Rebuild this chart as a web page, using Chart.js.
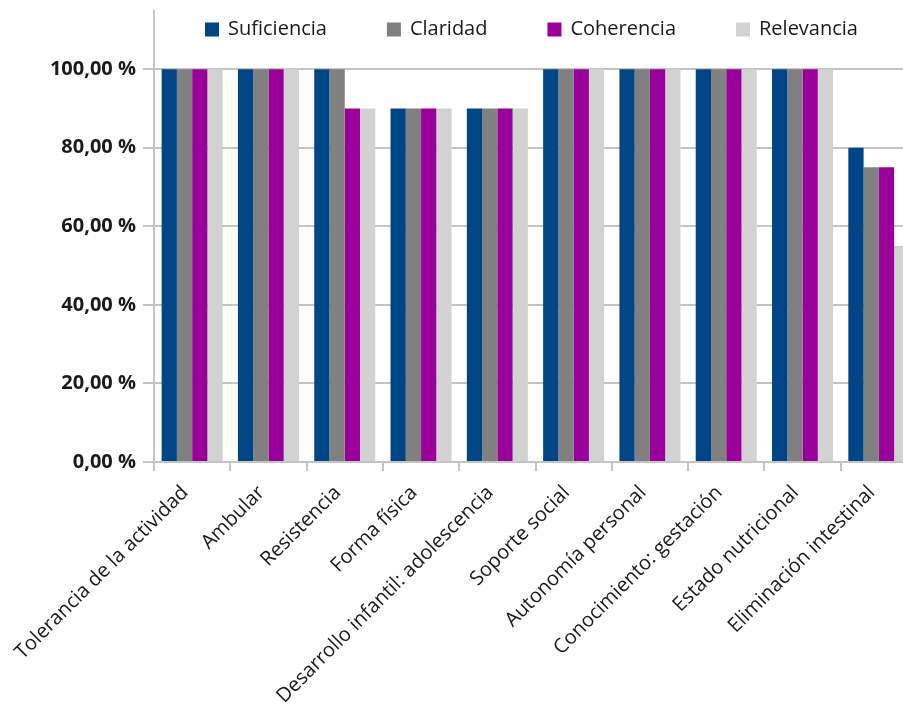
<!DOCTYPE html>
<html>
<head>
<meta charset="utf-8">
<script src="https://cdn.jsdelivr.net/npm/chart.js@4/dist/chart.umd.min.js"></script>
<style>
  html, body { margin: 0; padding: 0; background: #ffffff; overflow: hidden; }
  #wrap { position: absolute; left: 0; top: 0; width: 920px; height: 714px; }
</style>
</head>
<body>
<div id="wrap"><canvas id="c" width="920" height="714"></canvas></div>
<script>
// Categories (NOC outcomes) and evaluation scores, in percent
const categories = [
  'Tolerancia de la actividad',
  'Ambular',
  'Resistencia',
  'Forma física',
  'Desarrollo infantil: adolescencia',
  'Soporte social',
  'Autonomía personal',
  'Conocimiento: gestación',
  'Estado nutricional',
  'Eliminación intestinal'
];
const seriesNames = ['Suficiencia', 'Claridad', 'Coherencia', 'Relevancia'];
const suficiencia = [100, 100, 100, 90, 90, 100, 100, 100, 100, 80];
const claridad    = [100, 100, 100, 90, 90, 100, 100, 100, 100, 75];
const coherencia  = [100, 100,  90, 90, 90, 100, 100, 100, 100, 75];
const relevancia  = [100, 100,  90, 90, 90, 100, 100, 100, 100, 55];
const yTickValues = [0, 20, 40, 60, 80, 100];

const seriesColors = ['#004586', '#808080', '#990099', '#d2d2d2'];
const seriesValues = [suficiencia, claridad, coherencia, relevancia];

const fmtPct = v => v.toFixed(2).replace('.', ',') + ' %';

// Horizontal legend drawn over the top of the plot area
const topLegend = {
  id: 'topLegend',
  afterDraw(chart) {
    const ctx = chart.ctx;
    const box = 14, gapText = 9, gapItem = 60;
    ctx.save();
    ctx.font = '20px "Open Sans"';
    const items = chart.data.datasets.map(ds => ({
      label: ds.label, color: ds.backgroundColor, w: ctx.measureText(ds.label).width
    }));
    const total = items.reduce((s, it) => s + box + gapText + it.w, 0) + gapItem * (items.length - 1);
    const ca = chart.chartArea;
    let x = (ca.left + ca.right) / 2 - 4 - total / 2;
    const boxTop = 22.5;
    const baseline = 35;
    items.forEach(it => {
      ctx.fillStyle = it.color;
      ctx.fillRect(x, boxTop, box, box);
      x += box + gapText;
      ctx.fillStyle = '#1a1a1a';
      ctx.textAlign = 'left';
      ctx.textBaseline = 'alphabetic';
      ctx.fillText(it.label, x, baseline);
      x += it.w + gapItem;
    });
    ctx.restore();
  }
};

new Chart(document.getElementById('c'), {
  type: 'bar',
  data: {
    labels: categories,
    datasets: seriesNames.map((name, i) => ({
      label: name,
      data: seriesValues[i],
      backgroundColor: seriesColors[i],
      borderWidth: 0,
      categoryPercentage: 0.8,
      barPercentage: 1.0
    }))
  },
  options: {
    responsive: false,
    animation: false,
    layout: { padding: { top: 11, right: 3, left: 0, bottom: 0 } },
    plugins: {
      legend: { display: false },
      tooltip: { enabled: false }
    },
    scales: {
      x: {
        offset: true,
        afterFit: s => { s.height = 252; s.paddingLeft = 0; s.paddingRight = 0; },
        grid: {
          display: true,
          drawOnChartArea: false,
          drawTicks: true,
          tickLength: 9,
          color: '#c4c4c4',
          lineWidth: 2,
          offset: true
        },
        border: { display: true, color: '#c4c4c4', width: 2 },
        ticks: {
          autoSkip: false,
          minRotation: 45,
          maxRotation: 45,
          padding: 10,
          labelOffset: -7,
          color: '#1a1a1a',
          font: { family: '"Open Sans"', size: 20 }
        }
      },
      y: {
        min: 0,
        max: 114.8,
        afterFit: s => { s.width = 154; s.paddingTop = 0; s.paddingBottom = 0; },
        afterBuildTicks: s => { s.ticks = yTickValues.map(v => ({ value: v })); },
        grid: {
          color: '#c4c4c4',
          lineWidth: 2,
          tickLength: 11,
          drawTicks: true
        },
        border: { display: true, color: '#c4c4c4', width: 2 },
        ticks: {
          padding: 7,
          color: '#1a1a1a',
          font: { family: '"Open Sans"', size: 20, weight: 'bold' },
          callback: v => fmtPct(v)
        }
      }
    }
  },
  plugins: [topLegend]
});
</script>
</body>
</html>
